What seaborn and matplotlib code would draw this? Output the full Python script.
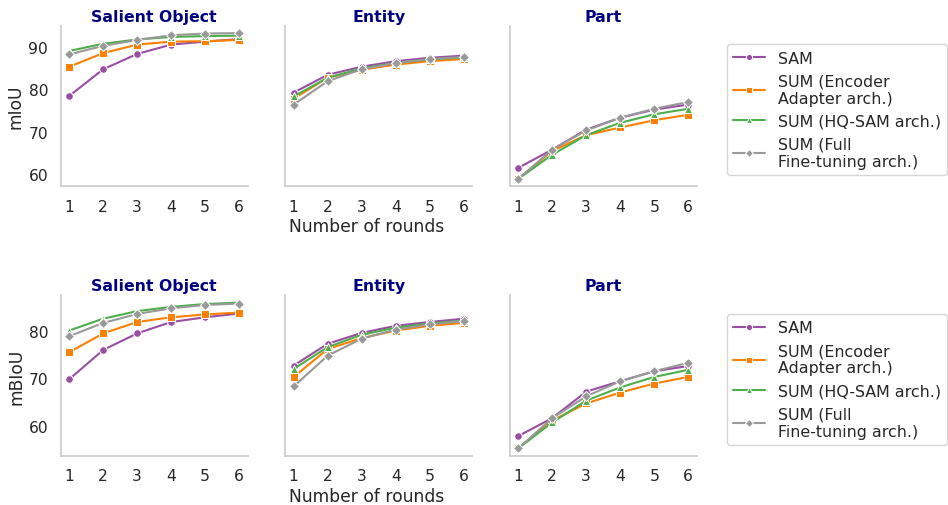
import matplotlib
matplotlib.use("Agg")
import matplotlib.pyplot as plt
import pandas as pd
import seaborn as sns

rounds = [1, 2, 3, 4, 5, 6]
methods = ["SAM", "SUM (Encoder\nAdapter arch.)", "SUM (HQ-SAM arch.)",
           "SUM (Full\nFine-tuning arch.)"]
tasks = ["Salient Object", "Entity", "Part"]
metrics = ["mIoU", "mBIoU"]

# mIoU per task, one list per method (SAM, Encoder Adapter, HQ-SAM, Full FT)
miou_salient_sam = [78.4, 84.7, 88.3, 90.5, 91.2, 91.8]
miou_salient_enc = [85.3, 88.5, 90.5, 91.2, 91.3, 91.6]
miou_salient_hq = [89.0, 90.7, 91.7, 92.3, 92.5, 92.6]
miou_salient_full = [88.2, 90.2, 91.6, 92.7, 93.1, 93.2]

miou_entity_sam = [79.2, 83.4, 85.3, 86.6, 87.4, 87.9]
miou_entity_enc = [77.8, 82.7, 84.6, 85.8, 86.6, 87.1]
miou_entity_hq = [78.3, 82.7, 84.9, 86.2, 87.0, 87.5]
miou_entity_full = [76.4, 81.9, 84.7, 86.2, 87.1, 87.6]

miou_part_sam = [61.5, 65.8, 70.5, 73.3, 75.2, 76.4]
miou_part_enc = [58.9, 65.5, 69.2, 71.0, 72.7, 74.0]
miou_part_hq = [58.9, 64.6, 69.2, 72.1, 74.1, 75.4]
miou_part_full = [58.9, 65.8, 70.3, 73.3, 75.4, 77.0]

# mBIoU per task
mbiou_salient_sam = [69.8, 76.0, 79.5, 81.9, 82.9, 83.7]
mbiou_salient_enc = [75.5, 79.5, 81.9, 82.9, 83.5, 83.9]
mbiou_salient_hq = [80.1, 82.6, 84.2, 85.1, 85.7, 86.0]
mbiou_salient_full = [78.9, 81.7, 83.6, 84.8, 85.5, 85.8]

mbiou_entity_sam = [72.7, 77.3, 79.6, 81.1, 81.9, 82.6]
mbiou_entity_enc = [70.3, 76.2, 78.5, 80.1, 81.1, 81.7]
mbiou_entity_hq = [72.0, 76.6, 79.2, 80.7, 81.6, 82.2]
mbiou_entity_full = [68.3, 74.8, 78.4, 80.3, 81.4, 82.1]

mbiou_part_sam = [57.8, 61.6, 67.2, 69.4, 71.5, 72.6]
mbiou_part_enc = [55.2, 61.1, 64.7, 67.0, 68.9, 70.3]
mbiou_part_hq = [55.2, 60.7, 65.3, 68.1, 70.3, 71.8]
mbiou_part_full = [55.2, 61.6, 66.2, 69.4, 71.5, 73.3]

panels = {
    ("mIoU", "Salient Object"): [miou_salient_sam, miou_salient_enc, miou_salient_hq, miou_salient_full],
    ("mIoU", "Entity"): [miou_entity_sam, miou_entity_enc, miou_entity_hq, miou_entity_full],
    ("mIoU", "Part"): [miou_part_sam, miou_part_enc, miou_part_hq, miou_part_full],
    ("mBIoU", "Salient Object"): [mbiou_salient_sam, mbiou_salient_enc, mbiou_salient_hq, mbiou_salient_full],
    ("mBIoU", "Entity"): [mbiou_entity_sam, mbiou_entity_enc, mbiou_entity_hq, mbiou_entity_full],
    ("mBIoU", "Part"): [mbiou_part_sam, mbiou_part_enc, mbiou_part_hq, mbiou_part_full],
}

rows = []
for (metric, task), series in panels.items():
    for method, values in zip(methods, series):
        for r, v in zip(rounds, values):
            rows.append({"metric": metric, "task": task, "method": method,
                         "round": r, "value": v})
df = pd.DataFrame(rows)

palette = dict(zip(methods, ["#984ea3", "#ff7f00", "#4daf4a", "#999999"]))
marker_map = dict(zip(methods, ["o", "s", "^", "D"]))

sns.set_theme(style="whitegrid", context="notebook")
plt.rcParams["font.family"] = ["DejaVu Sans"]

fig, axes = plt.subplots(2, 3, figsize=(9.48, 5.06), dpi=100, sharey="row")
fig.subplots_adjust(left=0.064, right=0.735, top=0.947, bottom=0.0974,
                    wspace=0.2, hspace=0.68)

for i, metric in enumerate(metrics):
    for j, task in enumerate(tasks):
        ax = axes[i, j]
        sub = df[(df["metric"] == metric) & (df["task"] == task)]
        sns.lineplot(data=sub, x="round", y="value", hue="method", style="method",
                     hue_order=methods, style_order=methods, palette=palette,
                     markers=marker_map, dashes=False, markersize=5.5,
                     linewidth=1.5, ax=ax, legend=(j == 2))
        ax.grid(False)
        ax.set_xticks(rounds)
        ax.set_title(task, fontsize=11.3, fontweight="bold", color="#000080", pad=3.5)
        ax.set_xlabel("Number of rounds" if j == 1 else "", fontsize=12.3, labelpad=2.5)
        ax.xaxis.label.set_x(0.4376)
        ax.set_ylabel(metric if j == 0 else "", fontsize=12.3, labelpad=2.5)
        ax.tick_params(labelsize=11.2, pad=3)
        sns.despine(ax=ax)
        if j == 2:
            leg = ax.legend(loc="center left", bbox_to_anchor=(1.12, 0.476),
                            fontsize=11.4, frameon=True)
            for h in leg.legend_handles:
                h.set_markersize(4.5)

fig.savefig("out.png", dpi=100)
